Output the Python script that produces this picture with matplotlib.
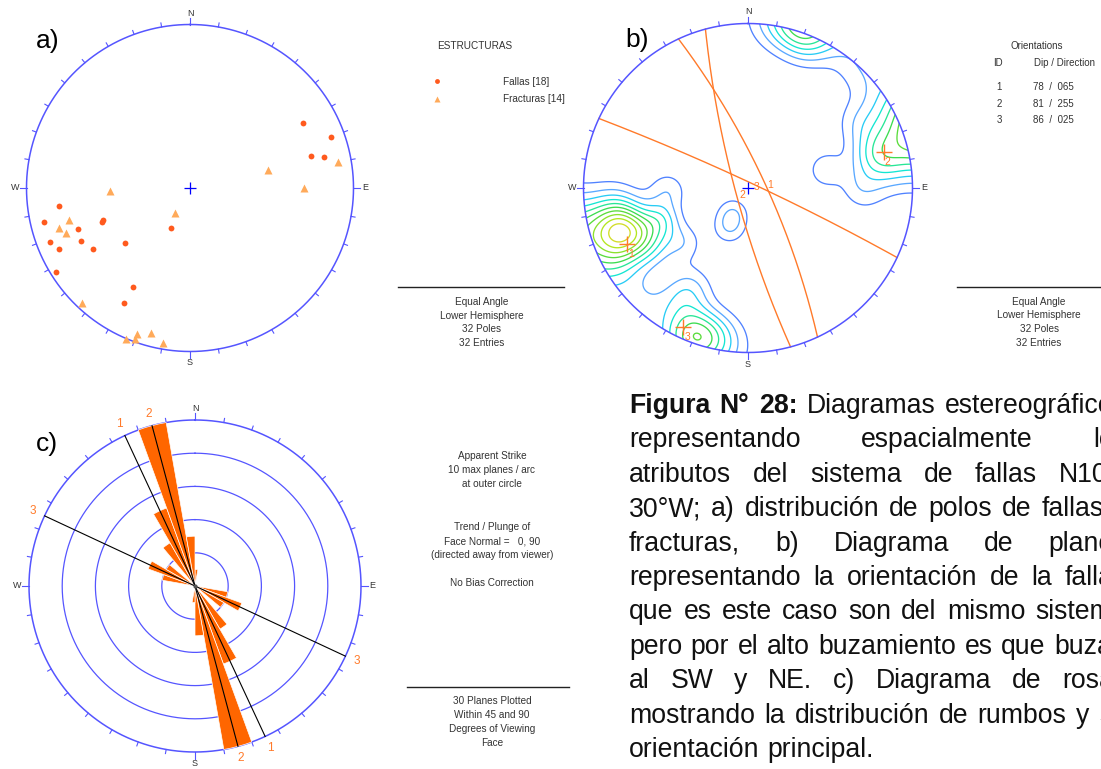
import numpy as np
import matplotlib
matplotlib.use("Agg")
import matplotlib.pyplot as plt
from matplotlib.patches import Circle

plt.rcParams['font.family'] = ['Liberation Sans', 'DejaVu Sans']

W, H = 1101, 769

# polos (trend / plunge) leidos del panel a)
fallas_trend = [60, 70, 75, 77, 262, 257, 250, 250, 249, 249, 244, 245, 238, 230, 205, 238, 210, 210]
fallas_plunge = [13, 5, 15, 10, 12, 5, 18, 31, 30, 5, 17, 7, 20, 35, 60, 2, 20, 12]
fract_trend = [77, 80, 90, 268, 211, 255, 253, 250, 223, 200, 200, 203, 195, 190]
fract_plunge = [38, 5, 20, 38, 70, 15, 10, 12, 2, 3, 1, 0, 5, 2]

# familias (panel b)
set_ids = [1, 2, 3]
set_dip = [78, 81, 86]
set_dipdir = [65, 255, 25]

# roseta: inicio del arco (rumbo 0-180) y numero de planos
rose_bins = [0, 100, 110, 120, 140, 150, 160, 170]
rose_counts = [1, 2, 3, 2, 3, 5, 10, 3]

BLUE = '#5555FF'
ORANGE = '#FF7A2A'
TXT = '#333333'

fig = plt.figure(figsize=(W / 100, H / 100), dpi=100)
bg = fig.add_axes([0, 0, 1, 1])
bg.set_xlim(0, W)
bg.set_ylim(H, 0)
bg.axis('off')


def box(cx, cy, half):
    return [(cx - half) / W, 1 - (cy + half) / H, 2 * half / W, 2 * half / H]


def proj(trend, plunge):
    t = np.radians(trend)
    p = np.radians(plunge)
    r = np.tan((np.pi / 2 - p) / 2)
    return r * np.sin(t), r * np.cos(t)


def net(ax):
    a = np.linspace(0, 2 * np.pi, 721)
    ax.plot(np.sin(a), np.cos(a), color=BLUE, lw=1.1)
    for az in range(0, 360, 10):
        l = 1.04 if az % 90 == 0 else 1.025
        s, c = np.sin(np.radians(az)), np.cos(np.radians(az))
        ax.plot([s, l * s], [c, l * c], color=BLUE, lw=0.8)
    for lab, az in zip('NESW', [0, 90, 180, 270]):
        s, c = np.sin(np.radians(az)), np.cos(np.radians(az))
        ax.text(1.07 * s, 1.07 * c, lab, ha='center', va='center', fontsize=6.5, color=TXT)
    ax.plot(0, 0, '+', ms=9, mew=0.9, color='#0000FF')
    ax.set_xlim(-1.15, 1.15)
    ax.set_ylim(-1.15, 1.15)
    ax.axis('off')


# ---------- a) polos ----------
axa = fig.add_axes(box(190, 188, 1.15 * 163.5))
net(axa)
x, y = proj(fallas_trend, fallas_plunge)
axa.plot(x, y, 'o', ms=4.2, color='#FF5A1E', mec='none')
x, y = proj(fract_trend, fract_plunge)
axa.plot(x, y, '^', ms=5.8, color='#FFAA5A', mec='none')

bg.text(475, 46, 'ESTRUCTURAS', ha='center', va='center', fontsize=7.2, color=TXT)
bg.plot(437, 81, 'o', ms=3.5, color='#FF5A1E', mec='none')
bg.plot(437, 99, '^', ms=4.5, color='#FFAA5A', mec='none')
bg.text(503, 82, 'Fallas [18]', ha='left', va='center', fontsize=7.2, color=TXT)
bg.text(503, 99, 'Fracturas [14]', ha='left', va='center', fontsize=7.2, color=TXT)
bg.plot([398, 564], [287, 287], color='#222222', lw=1)
for i, s in enumerate(['Equal Angle', 'Lower Hemisphere', '32 Poles', '32 Entries']):
    bg.text(482, 302 + i * 13.7, s, ha='center', va='center', fontsize=7.2, color=TXT)
bg.text(48, 41, 'a)', ha='center', va='center', fontsize=19, color='black')

# ---------- b) contornos y planos ----------
axb = fig.add_axes(box(748, 188, 1.15 * 164.5))
trend_all = np.radians(fallas_trend + fract_trend)
plunge_all = np.radians(fallas_plunge + fract_plunge)
pv = np.stack([np.cos(plunge_all) * np.sin(trend_all),
               np.cos(plunge_all) * np.cos(trend_all),
               np.sin(plunge_all)], -1)
g = np.linspace(-1.05, 1.05, 361)
X, Y = np.meshgrid(g, g)
colat = 2 * np.arctan(np.hypot(X, Y))
az = np.arctan2(X, Y)
gv = np.stack([np.sin(colat) * np.sin(az), np.sin(colat) * np.cos(az), np.cos(colat)], -1)
k = 60.0
dens = np.exp(k * (np.abs(gv @ pv.T) - 1)).sum(-1)
levels = 0.6 * np.arange(1, 14)
ccols = ['#5082FF', '#5AA8FF', '#28CCF5', '#14E6D2', '#28E696', '#3CDC50',
         '#5ADC3C', '#8CE12D', '#B4E61E', '#D2DC28', '#E6CD3C', '#FFB43C', '#FF8C3C']
cs = axb.contour(X, Y, dens, levels=levels, colors=ccols, linewidths=0.95)
clip = Circle((0, 0), 1, transform=axb.transData)
cs.set_clip_path(clip)

for sid, dip, dd in zip(set_ids, set_dip, set_dipdir):
    d = np.radians(dip)
    st = np.radians(dd - 90)
    sv = np.array([np.sin(st), np.cos(st), 0.0])
    dv = np.array([np.sin(np.radians(dd)) * np.cos(d), np.cos(np.radians(dd)) * np.cos(d), np.sin(d)])
    a = np.linspace(0, np.pi, 300)
    v = np.outer(np.cos(a), sv) + np.outer(np.sin(a), dv)
    pl = np.degrees(np.arcsin(np.clip(v[:, 2], -1, 1)))
    tr = np.degrees(np.arctan2(v[:, 0], v[:, 1]))
    gx, gy = proj(tr, pl)
    axb.plot(gx, gy, color=ORANGE, lw=1)
    lx, ly = proj(dd, dip)
    axb.text(lx + 0.04, ly - 0.025, str(sid), color=ORANGE, fontsize=7.5, ha='center', va='center')
    px, py = proj(dd + 180, 90 - dip)
    axb.plot(px, py, '+', ms=11, mew=1, color=ORANGE)
    axb.text(px + 0.025, py - 0.06, str(sid), color=ORANGE, fontsize=7.5, ha='center', va='center')
net(axb)

bg.text(1037, 46, 'Orientations', ha='center', va='center', fontsize=7, color=TXT)
bg.text(998, 63, 'ID', ha='center', va='center', fontsize=7, color=TXT)
bg.text(1064, 63, 'Dip / Direction', ha='center', va='center', fontsize=7, color=TXT)
for i, (sid, dip, dd) in enumerate(zip(set_ids, set_dip, set_dipdir)):
    bg.text(999, 87 + i * 16.7, str(sid), ha='center', va='center', fontsize=7, color=TXT)
    bg.text(1053, 87 + i * 16.7, '%d  /  %03d' % (dip, dd), ha='center', va='center', fontsize=7, color=TXT)
bg.plot([957, 1101], [287, 287], color='#222222', lw=1)
for i, s in enumerate(['Equal Angle', 'Lower Hemisphere', '32 Poles', '32 Entries']):
    bg.text(1039, 302 + i * 13.5, s, ha='center', va='center', fontsize=7.2, color=TXT)
bg.text(637, 40, 'b)', ha='center', va='center', fontsize=19, color='black')

# ---------- c) roseta ----------
rmax = 11.5
axc = fig.add_axes(box(195, 586, 166 * rmax / 10), projection='polar')
axc.set_theta_zero_location('N')
axc.set_theta_direction(-1)
axc.set_ylim(0, rmax)
axc.axis('off')
th = np.linspace(0, 2 * np.pi, 721)
for rr in [2, 4, 6, 8]:
    axc.plot(th, np.full_like(th, rr), color=BLUE, lw=0.9, zorder=1)
axc.plot(th, np.full_like(th, 10), color=BLUE, lw=1.1, zorder=1)
for azd in range(0, 360, 10):
    l = 10.4 if azd % 90 == 0 else 10.25
    axc.plot([np.radians(azd)] * 2, [10, l], color=BLUE, lw=0.8)
for lab, azd in zip('NESW', [0, 90, 180, 270]):
    axc.text(np.radians(azd), 10.7, lab, ha='center', va='center', fontsize=6.5, color=TXT)
cent = np.radians(np.array(rose_bins) + 5)
for off in [0, np.pi]:
    axc.bar(cent + off, rose_counts, width=np.radians(10), color='#FF6600',
            edgecolor='white', linewidth=0.5, zorder=2)
for sid, dd in zip(set_ids, set_dipdir):
    for s in [dd - 90, dd + 90]:
        axc.plot([np.radians(s)] * 2, [0, 10], color='black', lw=0.8, zorder=3)
        axc.text(np.radians(s), 10.75, str(sid), color=ORANGE, fontsize=8.5, ha='center', va='center')
axc.plot(0, 0, 'o', ms=2, color='#555555', zorder=4)

ctxt = [('Apparent Strike', 456), ('10 max planes / arc', 470), ('at outer circle', 484),
        ('Trend / Plunge of', 527), ('Face Normal =   0, 90', 541), ('(directed away from viewer)', 555),
        ('No Bias Correction', 583), ('30 Planes Plotted', 701), ('Within 45 and 90', 715),
        ('Degrees of Viewing', 729), ('Face', 743)]
for s, yy in ctxt:
    bg.text(492, yy, s, ha='center', va='center', fontsize=7.2, color=TXT)
bg.plot([407, 569], [687, 687], color='#222222', lw=1)
bg.text(47, 444, 'c)', ha='center', va='center', fontsize=19, color='black')

# ---------- leyenda de la figura (justificada) ----------
cap_lines = [
    'Figura N° 28: Diagramas estereográficos',
    'representando espacialmente los',
    'atributos del sistema de fallas N10°-',
    '30°W; a) distribución de polos de fallas y',
    'fracturas, b) Diagrama de planos',
    'representando la orientación de la fallas',
    'que es este caso son del mismo sistema',
    'pero por el alto buzamiento es que buzan',
    'al SW y NE. c) Diagrama de rosas',
    'mostrando la distribución de rumbos y su',
    'orientación principal.',
]
x0, x1 = 629, 1127
ren = fig.canvas.get_renderer()
for i, line in enumerate(cap_lines):
    words = line.split()
    arts = []
    for j, wd in enumerate(words):
        t = bg.text(0, 413 + i * 34.4, wd, fontsize=19.2, va='baseline', ha='left', color='#111111',
                    fontweight='bold' if (i == 0 and j < 3) else 'normal')
        arts.append(t)
    widths = [t.get_window_extent(ren).width for t in arts]
    if i == len(cap_lines) - 1:
        gap = 7.4
    else:
        gap = (x1 - x0 - sum(widths)) / (len(words) - 1)
    xx = x0
    for t, wd in zip(arts, widths):
        t.set_x(xx)
        xx += wd + gap

fig.savefig('out.png', dpi=100)
